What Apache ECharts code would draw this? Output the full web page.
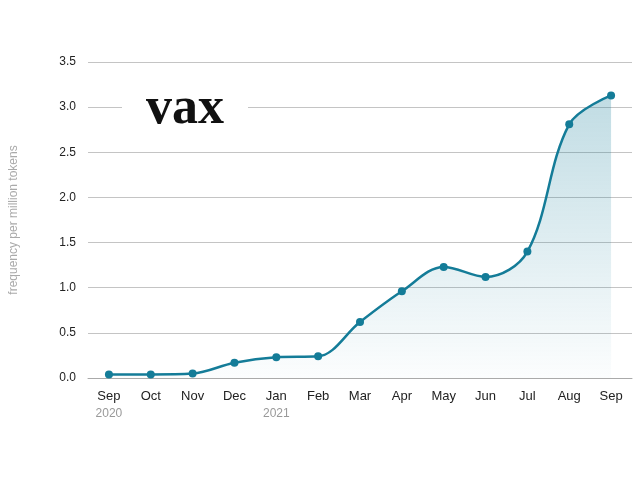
<!DOCTYPE html>
<html>
<head>
<meta charset="utf-8">
<script src="https://cdn.jsdelivr.net/npm/echarts@6/dist/echarts.min.js"></script>
<style>
  html,body{margin:0;padding:0;background:#fff}
  #main{width:640px;height:480px;}
</style>
</head>
<body>
<div id="main"></div>
<script>
// months on the x axis, with the year shown under Sep and Jan
var months = ['Sep','Oct','Nov','Dec','Jan','Feb','Mar','Apr','May','Jun','Jul','Aug','Sep'];
var years = ['2020','','','','2021','','','','','','','',''];
// frequency per million tokens
var freq = [0.04, 0.04, 0.05, 0.17, 0.23, 0.24, 0.62, 0.96, 1.23, 1.12, 1.40, 2.81, 3.13];
var yTicks = [0, 0.5, 1.0, 1.5, 2.0, 2.5, 3.0, 3.5];

var chart = echarts.init(document.getElementById('main'));

var option = {
    animation: false,
    title: {
        text: 'vax',
        left: 122,
        top: 84,
        backgroundColor: '#fff',
        padding: [0, 24, 0, 24],
        textStyle: {
            fontFamily: 'Liberation Serif',
            fontWeight: 'bold',
            fontSize: 52,
            color: '#111'
        }
    },
    grid: {left: 83, right: 8, top: 62, bottom: 102},
    xAxis: {
        type: 'category',
        data: months,
        boundaryGap: true,
        axisLine: {lineStyle: {color: '#aaa'}},
        axisTick: {alignWithLabel: true, lineStyle: {color: '#aaa'}, length: 5},
        axisLabel: {
            interval: 0,
            margin: 9,
            formatter: function (v, i) {
                return years[i] ? v + '\n{y|' + years[i] + '}' : v;
            },
            color: '#222',
            fontFamily: 'Liberation Sans',
            fontSize: 13,
            lineHeight: 18,
            rich: {
                y: {color: '#999', fontSize: 12, lineHeight: 18, fontFamily: 'Liberation Sans'}
            }
        }
    },
    yAxis: {
        type: 'value',
        min: yTicks[0],
        max: yTicks[yTicks.length - 1],
        interval: 0.5,
        name: 'frequency per million tokens',
        nameLocation: 'middle',
        nameGap: 68,
        nameTextStyle: {color: '#aaa', fontSize: 12, fontFamily: 'Liberation Sans'},
        axisLine: {show: false},
        axisTick: {show: false},
        axisLabel: {
            color: '#222',
            fontSize: 12,
            fontFamily: 'Liberation Sans',
            margin: 12,
            formatter: function (v) { return v.toFixed(1); }
        },
        splitLine: {lineStyle: {color: '#c4c4c4'}}
    },
    series: [{
        type: 'line',
        data: freq,
        smooth: 0.35,
        symbol: 'circle',
        symbolSize: 8,
        z: 1,
        itemStyle: {color: '#147c98'},
        lineStyle: {color: '#147c98', width: 2.5},
        areaStyle: {
            color: new echarts.graphic.LinearGradient(0, 0, 0, 1, [
                {offset: 0, color: 'rgba(20,124,152,0.38)'},
                {offset: 1, color: 'rgba(20,124,152,0.02)'}
            ])
        }
    }]
};

chart.setOption(option);
</script>
</body>
</html>
